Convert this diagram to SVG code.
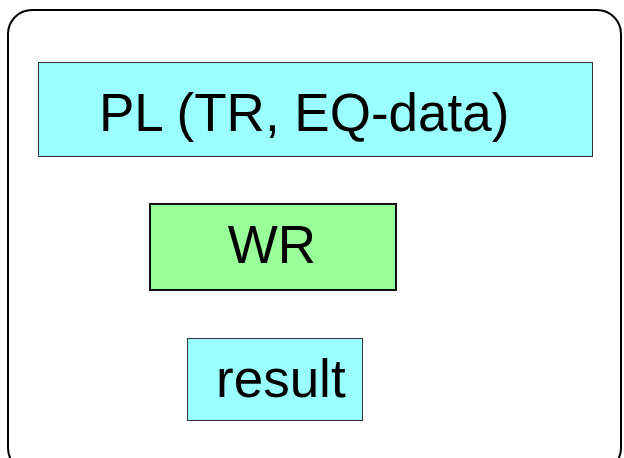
<svg xmlns="http://www.w3.org/2000/svg" width="624" height="458" viewBox="0 0 624 458">
<style>
.t{font-family:"Liberation Sans",Arial,sans-serif;font-size:53px;fill:#000}
.cy{fill:#99FFFF;stroke:#333;stroke-width:1}
</style>
<rect width="624" height="458" fill="#fff"/>
<g id="frame"><rect x="8" y="10" width="613" height="462" rx="24" fill="none" stroke="#000" stroke-width="2"/></g>
<g id="pl"><rect class="cy" x="38.5" y="62.5" width="554" height="94"/><text class="t" x="99" y="131">PL (TR, EQ-data)</text></g>
<g id="wr"><rect x="150" y="204" width="246" height="86" fill="#99FF99" stroke="#111" stroke-width="2"/><text class="t" x="272" y="263" text-anchor="middle">WR</text></g>
<g id="result"><rect class="cy" x="187.5" y="338.5" width="175" height="82"/><text class="t" x="216" y="397">result</text></g>
<g id="connectors"/>
</svg>
